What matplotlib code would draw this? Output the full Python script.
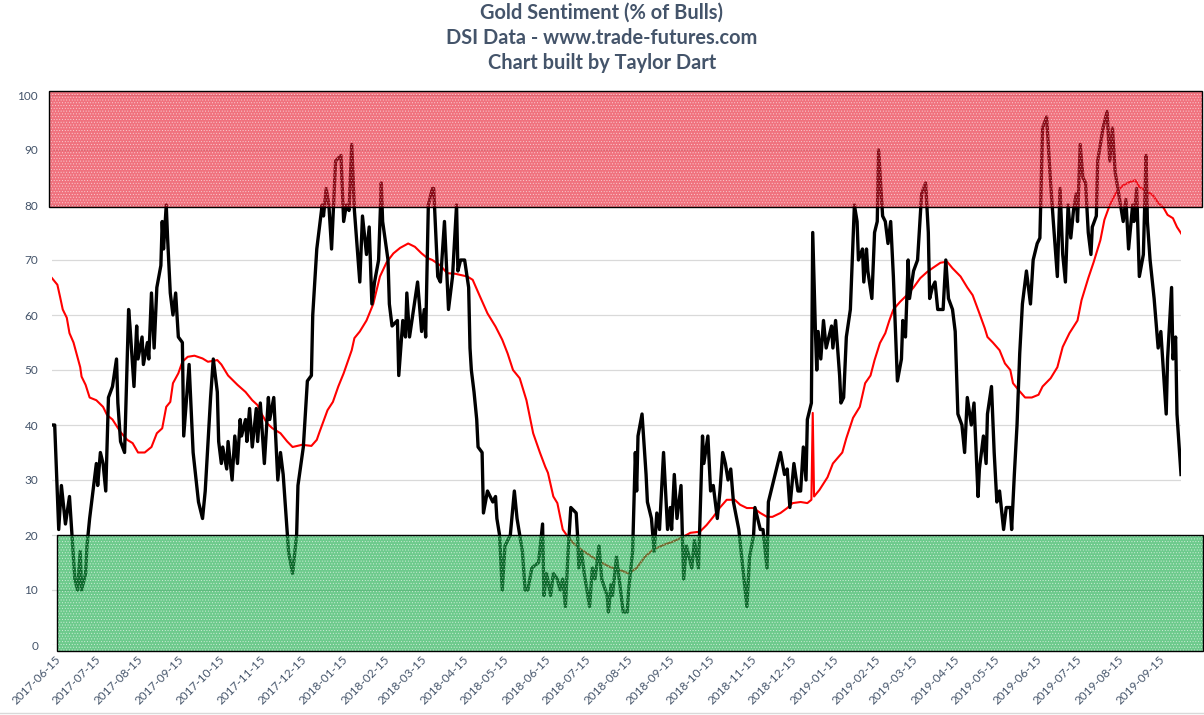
import numpy as np
import matplotlib.pyplot as plt
import matplotlib.dates as mdates
from matplotlib.patches import Rectangle
from matplotlib.lines import Line2D

TEXT_C = "#44546A"
GRID_C = "#d9d9d9"
RED_BAND = "#e61428"
GREEN_BAND = "#14aa46"

START = np.datetime64("2017-06-13")

# daily bull % (days since START)
bull_days = [0, 2, 5, 7, 10, 13, 17, 19, 21, 22, 25, 26, 28, 33, 34, 36, 38, 40, 42, 45,
             48, 49, 51, 54, 57, 58, 61, 63, 64, 67, 68, 71, 72, 74, 76, 78, 81, 82, 83, 85,
             86, 88, 90, 92, 94, 97, 98, 102, 105, 109, 112, 114, 118, 120, 123, 124, 126, 127, 130, 131,
             134, 136, 138, 140, 141, 144, 145, 147, 149, 152, 153, 155, 158, 161, 162, 165, 168, 170, 172, 174,
             176, 179, 182, 183, 187, 190, 193, 194, 197, 201, 202, 204, 206, 208, 211, 215, 217, 219, 221, 223,
             225, 229, 231, 234, 236, 238, 240, 243, 245, 246, 250, 251, 253, 257, 258, 261, 263, 264, 266, 272,
             275, 277, 278, 280, 283, 284, 287, 289, 292, 295, 298, 301, 302, 304, 307, 310, 311, 312, 314, 316,
             317, 320, 321, 324, 328, 330, 331, 333, 335, 337, 341, 344, 346, 350, 352, 354, 357, 362, 365, 366,
             368, 371, 373, 376, 378, 380, 382, 384, 385, 386, 390, 391, 392, 394, 396, 400, 402, 404, 407, 409,
             413, 414, 416, 417, 420, 423, 425, 428, 429, 432, 434, 435, 436, 439, 442, 443, 446, 448, 450, 452,
             455, 458, 460, 461, 463, 465, 468, 469, 470, 472, 476, 478, 481, 484, 485, 488, 490, 492, 495, 497,
             499, 501, 503, 505, 507, 511, 514, 517, 519, 522, 523, 527, 529, 532, 533, 536, 539, 542, 545, 547,
             549, 552, 555, 557, 559, 561, 562, 565, 566, 568, 569, 570, 572, 574, 576, 580, 581, 583, 586, 587,
             589, 591, 594, 597, 599, 600, 603, 604, 606, 607, 610, 612, 614, 615, 618, 620, 622, 624, 626, 629,
             632, 633, 635, 637, 638, 641, 644, 647, 650, 652, 653, 655, 657, 659, 663, 665, 667, 670, 672, 674,
             677, 679, 681, 684, 686, 689, 690, 693, 695, 696, 699, 701, 703, 705, 708, 710, 713, 714, 716, 718,
             720, 722, 725, 728, 730, 733, 735, 737, 740, 743, 745, 748, 750, 752, 754, 756, 758, 760, 762, 763,
             765, 767, 769, 771, 773, 774, 777, 778, 780, 782, 785, 787, 789, 791, 793, 797, 799, 801, 804, 805,
             807, 809, 812, 814, 815, 817, 820, 821, 823, 825, 829, 830, 833, 834, 836, 837, 840]
bull_pct = [40, 40, 21, 29, 22, 27, 12, 10, 17, 10, 13, 18, 23, 33, 29, 35, 33, 28, 45, 47,
            52, 44, 37, 35, 61, 58, 47, 58, 52, 56, 51, 55, 52, 64, 54, 65, 69, 77, 72, 80,
            74, 64, 60, 64, 56, 55, 38, 51, 35, 26, 23, 28, 45, 52, 46, 37, 33, 36, 32, 37,
            30, 38, 33, 41, 38, 41, 37, 43, 36, 43, 37, 44, 33, 45, 41, 45, 30, 35, 31, 24,
            17, 13, 20, 29, 36, 48, 49, 60, 72, 80, 78, 83, 80, 72, 88, 89, 77, 80, 79, 91,
            79, 66, 78, 71, 76, 62, 66, 70, 84, 77, 70, 62, 58, 59, 49, 59, 56, 64, 56, 66,
            57, 61, 56, 80, 83, 83, 67, 66, 77, 61, 67, 80, 68, 70, 70, 65, 54, 50, 46, 41,
            36, 35, 24, 28, 26, 27, 23, 20, 10, 18, 20, 28, 23, 17, 10, 10, 14, 15, 22, 9,
            13, 9, 13, 12, 10, 12, 7, 17, 21, 25, 24, 20, 14, 17, 13, 7, 14, 12, 18, 12,
            9, 6, 11, 9, 16, 10, 6, 6, 10, 17, 35, 28, 38, 42, 31, 26, 23, 17, 24, 21,
            35, 21, 25, 21, 31, 23, 29, 20, 12, 18, 14, 19, 14, 38, 33, 38, 28, 29, 23, 28,
            35, 33, 30, 32, 26, 21, 14, 7, 16, 20, 25, 21, 21, 14, 26, 29, 32, 35, 31, 32,
            25, 33, 28, 28, 36, 30, 41, 44, 75, 57, 50, 57, 52, 59, 54, 58, 54, 59, 49, 44,
            45, 56, 61, 80, 77, 70, 72, 66, 72, 68, 63, 75, 77, 90, 78, 77, 73, 77, 67, 48,
            52, 59, 56, 70, 63, 68, 70, 82, 84, 75, 63, 65, 66, 61, 61, 70, 63, 61, 57, 42,
            40, 35, 45, 40, 44, 27, 32, 38, 33, 42, 47, 35, 26, 28, 21, 25, 25, 21, 31, 40,
            53, 62, 68, 62, 70, 73, 74, 94, 96, 84, 77, 67, 83, 71, 66, 80, 74, 79, 82, 77,
            91, 85, 84, 75, 71, 76, 78, 88, 91, 94, 97, 88, 94, 86, 83, 77, 81, 72, 80, 77,
            83, 67, 71, 89, 77, 70, 63, 60, 54, 57, 42, 52, 65, 52, 56, 42, 31]

# moving average (days since START)
avg_days = [0, 4, 6, 8, 11, 13, 16, 21, 22, 25, 28, 33, 38, 41, 45, 51, 56, 60, 64, 69,
            74, 78, 82, 85, 88, 90, 94, 97, 101, 106, 112, 116, 123, 126, 131, 138, 144, 149, 153, 156,
            160, 164, 170, 175, 179, 186, 193, 197, 199, 205, 209, 213, 217, 220, 223, 225, 229, 234, 239, 244,
            249, 254, 259, 265, 270, 275, 279, 283, 289, 294, 300, 309, 313, 318, 324, 330, 335, 339, 343, 348,
            353, 358, 363, 367, 369, 373, 376, 380, 384, 388, 394, 402, 408, 415, 423, 429, 435, 441, 447, 455,
            462, 469, 475, 482, 487, 492, 497, 502, 508, 512, 517, 522, 527, 532, 536, 542, 547, 551, 557, 562,
            565, 566, 567, 571, 577, 581, 588, 591, 596, 601, 605, 609, 612, 616, 620, 623, 626, 631, 636, 641,
            646, 651, 655, 661, 666, 670, 676, 681, 685, 690, 694, 696, 700, 705, 709, 713, 715, 719, 724, 729,
            734, 737, 743, 748, 752, 757, 763, 766, 771, 775, 780, 783, 787, 792, 797, 802, 806, 809, 815, 819,
            823, 827, 830, 834, 837, 841]
avg_pct = [66.7, 65.5, 63.3, 61.0, 59.5, 56.7, 55.0, 50.5, 48.8, 47.3, 45.0, 44.5, 43.3, 41.8, 41.0, 38.7, 37.3, 36.7, 35.0, 35.0,
           36.0, 38.5, 39.4, 43.3, 44.2, 47.6, 49.4, 51.5, 52.4, 52.6, 52.1, 51.5, 51.8, 51.0, 49.0, 47.3, 46.0, 44.5, 43.6, 42.0,
           40.3, 39.4, 38.5, 37.0, 36.0, 36.4, 36.2, 37.3, 38.7, 42.7, 44.2, 47.0, 49.4, 51.5, 53.6, 55.8, 57.0, 59.0, 62.0, 67.0,
           69.6, 71.2, 72.2, 73.0, 72.4, 71.2, 70.4, 70.0, 69.0, 67.6, 67.5, 67.0, 66.4, 63.6, 60.3, 57.9, 55.5, 53.0, 50.0, 48.5,
           44.5, 38.5, 35.0, 32.4, 31.3, 27.0, 25.8, 21.0, 19.6, 18.5, 17.3, 16.0, 15.1, 14.2, 13.6, 13.0, 14.0, 16.0, 17.3, 18.2,
           18.8, 19.6, 20.4, 20.6, 21.8, 23.3, 25.0, 26.4, 26.4, 25.5, 24.9, 24.9, 24.0, 23.3, 23.3, 24.0, 24.9, 25.8, 26.0, 25.8,
           26.4, 42.2, 27.0, 28.2, 30.5, 33.0, 35.0, 37.6, 41.3, 43.3, 47.6, 49.0, 51.8, 54.9, 56.7, 59.0, 61.0, 62.4, 63.6, 65.0,
           66.7, 67.8, 68.5, 69.5, 69.7, 68.5, 67.0, 65.0, 63.6, 60.3, 57.6, 56.0, 55.0, 53.6, 51.2, 50.0, 47.6, 46.4, 45.0, 45.0,
           45.5, 47.0, 48.5, 50.5, 54.2, 56.7, 59.0, 62.7, 66.7, 69.6, 73.6, 77.3, 80.0, 82.4, 83.6, 84.2, 84.5, 83.3, 82.4, 81.8,
           80.4, 79.5, 78.2, 77.6, 76.0, 74.5]

bull_dates = START + np.array(bull_days, dtype="timedelta64[D]")
avg_dates = START + np.array(avg_days, dtype="timedelta64[D]")
tick_dates = np.arange("2017-06", "2019-10", dtype="datetime64[M]").astype("datetime64[D]") + np.timedelta64(14, "D")

plt.rcParams.update({
    "font.family": ["Lato", "DejaVu Sans"],
    "text.color": TEXT_C,
    "xtick.color": TEXT_C,
    "ytick.color": TEXT_C,
    "hatch.linewidth": 0.4,
})

fig = plt.figure(figsize=(12.04, 7.15), dpi=100)
ax = fig.add_axes([52 / 1204, 1 - 645 / 715, (1181 - 52) / 1204, 550 / 715])

ax.plot(bull_dates, bull_pct, color="black", lw=2.4, zorder=3, solid_joinstyle="round")
ax.plot(avg_dates, avg_pct, color="#ff0000", lw=1.5, zorder=2)

ax.set_xlim(START, START + np.timedelta64(840, "D"))
ax.set_ylim(0, 100)
ax.set_yticks(range(0, 101, 10))
ax.grid(axis="y", color=GRID_C, lw=0.9)
ax.set_axisbelow(True)
ax.set_xticks(tick_dates)
ax.xaxis.set_major_formatter(mdates.DateFormatter("%Y-%m-%d"))
ax.tick_params(axis="x", length=0, pad=6, labelsize=8.5)
ax.tick_params(axis="y", length=0, pad=10, labelsize=8.5)
for lab in ax.get_xticklabels():
    lab.set_rotation(45)
    lab.set_ha("right")
    lab.set_rotation_mode("anchor")
for s in ax.spines.values():
    s.set_visible(False)

# sentiment zones
d0 = mdates.date2num(START)
for x_a, x_b, y_a, y_b, col, a in [(-2.2, 855.6, 79.6, 100.7, RED_BAND, 0.6),
                                   (3.7, 856.3, -1.1, 20.0, GREEN_BAND, 0.62)]:
    ax.add_patch(Rectangle((d0 + x_a, y_a), x_b - x_a, y_b - y_a, facecolor=col, alpha=a,
                           edgecolor="white", hatch="......", lw=0, zorder=4, clip_on=False))
    ax.add_patch(Rectangle((d0 + x_a, y_a), x_b - x_a, y_b - y_a, facecolor="none",
                           edgecolor="black", lw=1.0, zorder=5, clip_on=False))

fig.add_artist(Line2D([0, 1], [1 - 713 / 715] * 2, color=GRID_C, lw=1))

fig.text(0.5, 1 - 13 / 715, "Gold Sentiment (% of Bulls)", ha="center", va="center",
         fontsize=14.4, fontweight="bold")
fig.text(0.5, 1 - 38 / 715, "DSI Data - www.trade-futures.com", ha="center", va="center",
         fontsize=14.4, fontweight="bold")
fig.text(0.5, 1 - 63 / 715, "Chart built by Taylor Dart", ha="center", va="center",
         fontsize=14.4, fontweight="bold")

fig.savefig("out.png", dpi=100)
